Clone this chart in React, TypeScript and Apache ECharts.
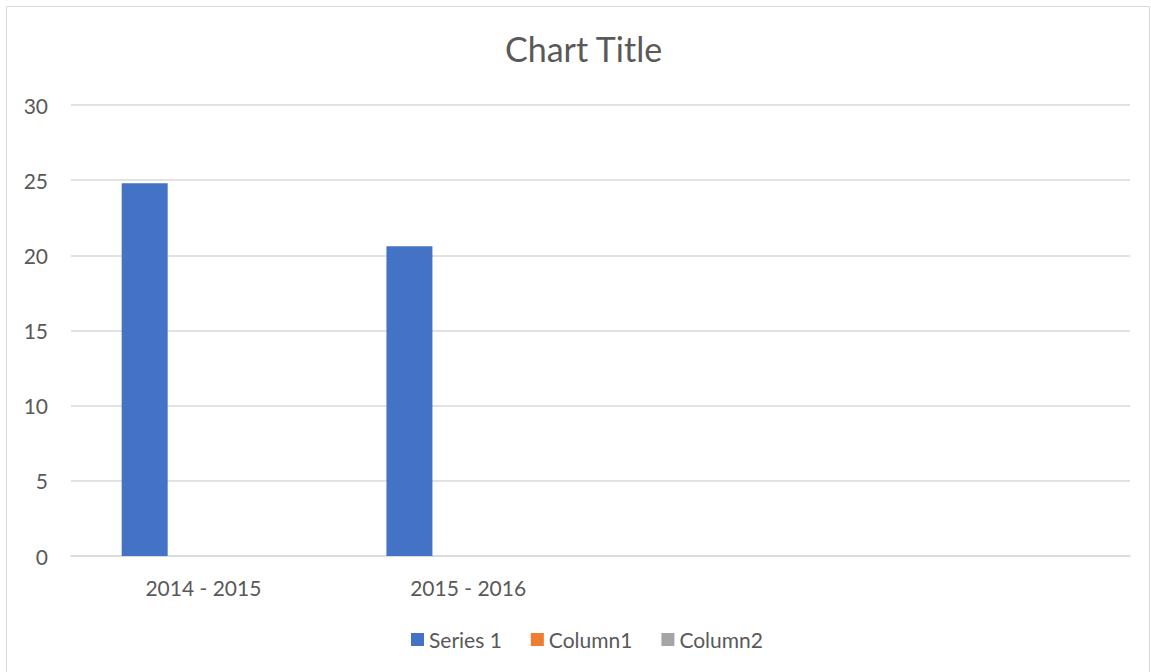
import React, { useEffect, useRef } from "react";
import * as echarts from "echarts";

const categories = ["2014 - 2015", "2015 - 2016", "", ""];
const series1 = [24.8, 20.6, null, null];
const column1 = [null, null, null, null];
const column2 = [null, null, null, null];
const seriesNames = ["Series 1", "Column1", "Column2"];
const colors = ["#4472C4", "#ED7D31", "#A5A5A5"];

const FONT = "Lato, 'Open Sans', sans-serif";

export default function App() {
  const ref = useRef<HTMLDivElement>(null);
  useEffect(() => {
    const chart = echarts.init(ref.current!, null, { renderer: "svg" });
    const data = [series1, column1, column2];
    chart.setOption({
      animation: false,
      backgroundColor: "#ffffff",
      color: colors,
      textStyle: { fontFamily: FONT },
      title: {
        text: "Chart Title",
        left: 505,
        top: 31,
        padding: 0,
        textStyle: { fontSize: 34, fontWeight: "normal", color: "#595959", fontFamily: FONT },
      },
      graphic: [
        {
          type: "rect",
          shape: { x: 6.5, y: 6.5, width: 1143, height: 700 },
          style: { fill: "none", stroke: "#d9d9d9", lineWidth: 1 },
          silent: true,
        },
      ],
      legend: {
        top: 624,
        left: 406,
        icon: "rect",
        itemWidth: 13,
        itemHeight: 13,
        itemGap: 29,
        textStyle: { fontSize: 21, color: "#595959", fontFamily: FONT },
        data: seriesNames,
      },
      grid: { left: 71, right: 21, top: 105, bottom: 116, containLabel: false },
      xAxis: {
        type: "category",
        data: categories,
        axisLine: { lineStyle: { color: "#d9d9d9", width: 1.5 } },
        axisTick: { show: false },
        axisLabel: { color: "#595959", fontSize: 21, margin: 21, fontFamily: FONT },
      },
      yAxis: {
        type: "value",
        min: 0,
        max: 30,
        interval: 5,
        axisLine: { show: false },
        axisTick: { show: false },
        axisLabel: { color: "#595959", fontSize: 21, margin: 23, fontFamily: FONT },
        splitLine: { lineStyle: { color: "#d9d9d9", width: 1.5 } },
      },
      series: seriesNames.map((name, i) => ({
        name,
        type: "bar",
        data: data[i],
        barWidth: 46,
        barGap: "27.6%",
        itemStyle: { color: colors[i] },
      })),
    });
    return () => chart.dispose();
  }, []);
  return (
    <div
      ref={ref}
      style={{ position: "fixed", left: 0, top: 0, width: 1151, height: 672 }}
    />
  );
}
